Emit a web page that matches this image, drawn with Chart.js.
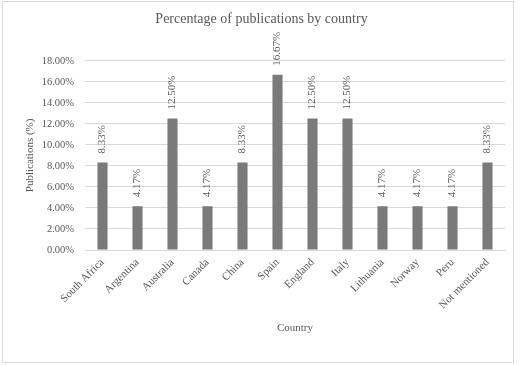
<!DOCTYPE html>
<html>
<head>
<meta charset="utf-8">
<script src="https://cdn.jsdelivr.net/npm/chart.js@4.4.0/dist/chart.umd.min.js"></script>
<style>
  html, body { margin: 0; padding: 0; background: #fff; }
  #wrap { width: 520px; height: 366px; position: relative; }
</style>
</head>
<body>
<div id="wrap"><canvas id="myChart" width="520" height="366"></canvas></div>
<script>
const countries = ["South Africa", "Argentina", "Australia", "Canada", "China", "Spain",
    "England", "Italy", "Lithuania", "Norway", "Peru", "Not mentioned"]
const percentages = [8.33, 4.17, 12.50, 4.17, 8.33, 16.67, 12.50, 12.50, 4.17, 4.17, 4.17, 8.33]
const yMin = 0
const yMax = 18
const yStep = 2

const ctx = document.getElementById('myChart');
const textGrey = "#595959"
const serif = "'Liberation Serif', 'Times New Roman', serif"

// labels above the bars, turned on their side
const barLabels = {
    id: 'barLabels',
    afterDatasetsDraw(chart) {
        const c = chart.ctx
        const meta = chart.getDatasetMeta(0)
        c.save()
        c.fillStyle = textGrey
        c.font = "11px " + serif
        c.textAlign = "left"
        c.textBaseline = "middle"
        meta.data.forEach((bar, i) => {
            c.save()
            c.translate(bar.x, bar.y - 9)
            c.rotate(-Math.PI / 2)
            c.fillText(percentages[i].toFixed(2) + "%", 0, 0)
            c.restore()
        })
        c.restore()
    }
}

const frame = {
    id: 'frame',
    afterDraw(chart) {
        const c = chart.ctx
        c.save()
        c.strokeStyle = "#d9d9d9"
        c.lineWidth = 1
        c.strokeRect(2.5, 1.5, 511, 361)
        c.restore()
    }
}

new Chart(ctx, {
    type: 'bar',
    data: {
        labels: countries,
        datasets: [{
            label: 'Publications (%)',
            data: percentages,
            backgroundColor: "#7a7a7a",
            barPercentage: 0.9,
            categoryPercentage: 0.32
        }]
    },
    plugins: [barLabels, frame],
    options: {
        responsive: false,
        animation: false,
        layout: { padding: { left: 18, right: 15, top: 0, bottom: 24 } },
        plugins: {
            legend: { display: false },
            tooltip: { enabled: false },
            title: {
                display: true,
                text: "Percentage of publications by country",
                color: textGrey,
                font: { family: serif, size: 14, weight: 'normal' },
                padding: { top: 11, bottom: 33 }
            }
        },
        scales: {
            x: {
                afterFit(scale) { scale.height = 92 },
                grid: { display: false, drawTicks: false },
                border: { color: "#d9d9d9" },
                ticks: {
                    color: textGrey,
                    font: { family: serif, size: 11 },
                    maxRotation: 45,
                    minRotation: 45,
                    padding: 6,
                    autoSkip: false
                },
                title: {
                    display: true,
                    text: "Country",
                    color: textGrey,
                    font: { family: serif, size: 11 },
                    padding: { top: 0, bottom: 7 }
                }
            },
            y: {
                min: yMin,
                max: yMax,
                afterFit(scale) { scale.width = 67 },
                grid: { color: "#d9d9d9", drawTicks: false },
                border: { display: false },
                ticks: {
                    stepSize: yStep,
                    color: textGrey,
                    font: { family: serif, size: 10.5 },
                    padding: 11,
                    callback: v => v.toFixed(2) + "%"
                },
                title: {
                    display: true,
                    text: "Publications (%)",
                    color: textGrey,
                    font: { family: serif, size: 11 },
                    padding: { top: 6, bottom: 0 }
                }
            }
        }
    }
});
</script>
</body>
</html>
